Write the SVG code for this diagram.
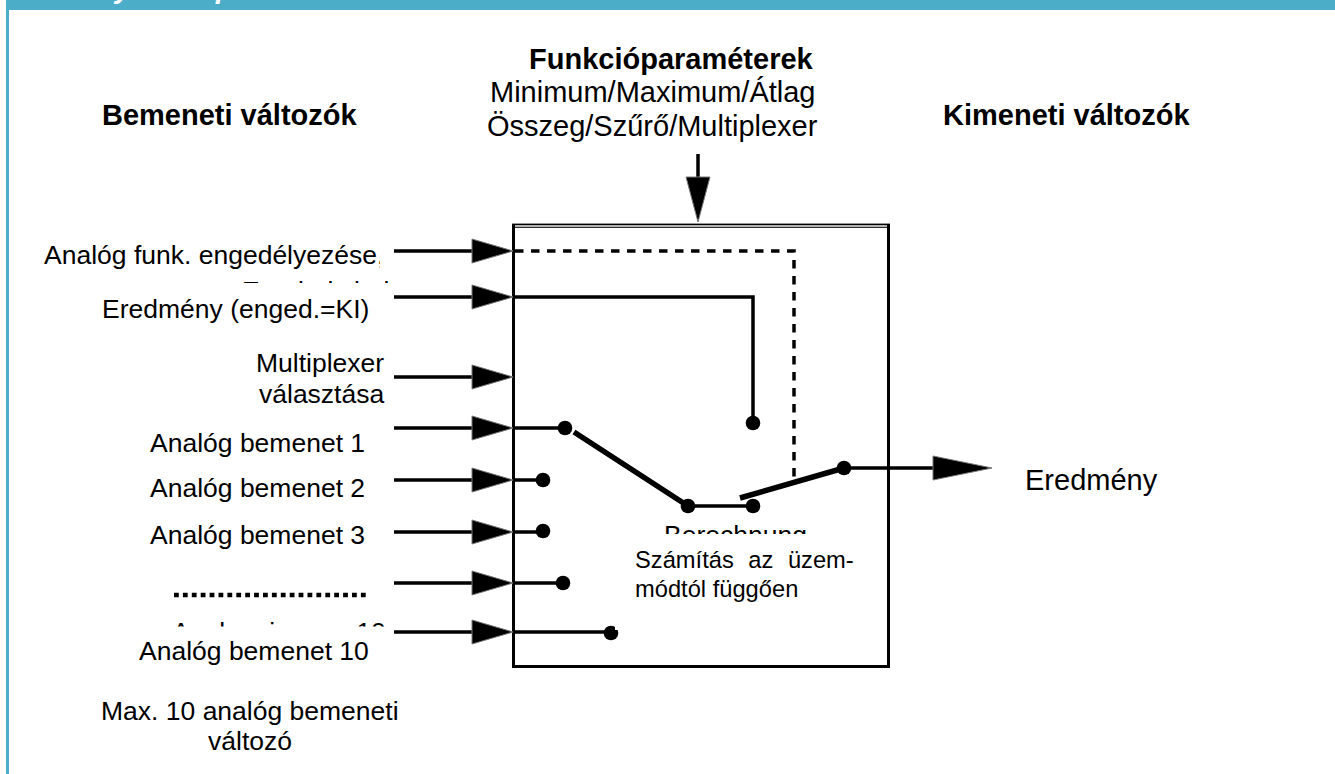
<svg xmlns="http://www.w3.org/2000/svg" width="1335" height="774" viewBox="0 0 1335 774">
<style>
text{font-family:"Liberation Sans",Arial,sans-serif;fill:#000;font-size:26.5px}
.h{font-size:29px}
.b{font-weight:700;font-size:29px}
.s{font-size:23.7px}
.i{fill:#fff;font-style:italic}
.l{fill:none;stroke:#000;stroke-width:3.5}
.t{fill:none;stroke:#000;stroke-width:5.5}
.d{fill:none;stroke:#000;stroke-width:3.5;stroke-dasharray:8.5 7.5}
.a{fill:#000;stroke:#777;stroke-width:1}
.banner{fill:#4badc8}
</style>
<defs>
<polygon id="arrow" class="a" points="0,-12 41,0 0,12"/>
<circle id="dot" r="7.3" fill="#000"/>
<clipPath id="c1"><rect x="0" y="240" width="380" height="40"/></clipPath>
<clipPath id="c2"><rect x="0" y="270" width="400" height="13"/></clipPath>
<clipPath id="c3"><rect x="600" y="515" width="260" height="19"/></clipPath>
<clipPath id="c4"><rect x="100" y="610" width="300" height="16.5"/></clipPath>
</defs>
<rect width="1335" height="774" fill="#fff"/>
<g id="frame">
<rect class="banner" x="6" y="0" width="1329" height="10"/>
<rect class="banner" x="6" y="0" width="3" height="774"/>
<text x="115" y="-2" class="b i" style="fill:#fff">y</text>
<text x="216" y="-2" class="b i" style="fill:#fff">p</text>
</g>
<g id="headings">
<text x="102" y="125" class="b">Bemeneti változók</text>
<text x="943" y="125" class="b">Kimeneti változók</text>
<text x="529" y="69" class="b">Funkcióparaméterek</text>
<text x="490" y="102" class="h">Minimum/Maximum/Átlag</text>
<text x="487" y="136" class="h">Összeg/Szűrő/Multiplexer</text>
</g>
<g id="block">
<path d="M513.5 666.5V225.5H888.5V666.5Z" fill="#fff" stroke="#000" stroke-width="3"/>
<rect x="512" y="223.6" width="378" height="4.2" fill="#000"/>
<rect x="515" y="225.3" width="372" height="1.4" fill="#fff"/>
<text x="664" y="544" clip-path="url(#c3)">Berechnung</text>
<text x="635" y="568" class="s" word-spacing="8">Számítás az üzem-</text>
<text x="635" y="597" class="s">módtól függően</text>
</g>
<g id="connectors">
<path class="l" d="M698 154V178"/>
<path class="l" d="M394 251H473M394 297H473M394 377H473M394 428H473M394 480H473M394 532H473M394 583H473M394 632H473"/>
<path class="d" d="M515 251H794V480"/>
<path class="l" d="M513 297H753V423"/>
<path class="l" d="M513 428H565M513 480H543M513 532H543M513 583H563M513 632H611M688 506H753M844 468H934"/>
<path class="t" d="M574 432L688 506M740 498L844 468"/>
<path d="M174 595H366" fill="none" stroke="#000" stroke-width="4.4" stroke-dasharray="4.8 4.1"/>
<use href="#arrow" x="472" y="251"/>
<use href="#arrow" x="472" y="297"/>
<use href="#arrow" x="472" y="377"/>
<use href="#arrow" x="472" y="428"/>
<use href="#arrow" x="472" y="480"/>
<use href="#arrow" x="472" y="532"/>
<use href="#arrow" x="472" y="583"/>
<use href="#arrow" x="472" y="632"/>
<polygon class="a" points="933,456 992,468 933,480"/>
<polygon class="a" points="686,177 710,177 698,222"/>
<use href="#dot" x="565" y="428"/>
<use href="#dot" x="543" y="480"/>
<use href="#dot" x="543" y="531"/>
<use href="#dot" x="563" y="583"/>
<use href="#dot" x="611" y="633"/>
<rect x="615" y="625" width="3" height="5" fill="#fff"/>
<use href="#dot" x="753" y="423"/>
<use href="#dot" x="688" y="506"/>
<use href="#dot" x="753" y="506"/>
<use href="#dot" x="844" y="468"/>
</g>
<g id="input-labels">
<text x="44" y="264" clip-path="url(#c1)">Analóg funk. engedélyezése,</text>
<text x="242" y="300" clip-path="url(#c2)">Ergebnis bei</text>
<text x="102" y="318">Eredmény (enged.=KI)</text>
<text x="256" y="372">Multiplexer</text>
<text x="259" y="403">választása</text>
<text x="150" y="452">Analóg bemenet 1</text>
<text x="150" y="497">Analóg bemenet 2</text>
<text x="150" y="544">Analóg bemenet 3</text>
<text x="172" y="641" clip-path="url(#c4)">Analogeingang 10</text>
<text x="139" y="660">Analóg bemenet 10</text>
<text x="101" y="720">Max. 10 analóg bemeneti</text>
<text x="208" y="750">változó</text>
</g>
<g id="output-label">
<text x="1025" y="490" class="h">Eredmény</text>
</g>
</svg>
